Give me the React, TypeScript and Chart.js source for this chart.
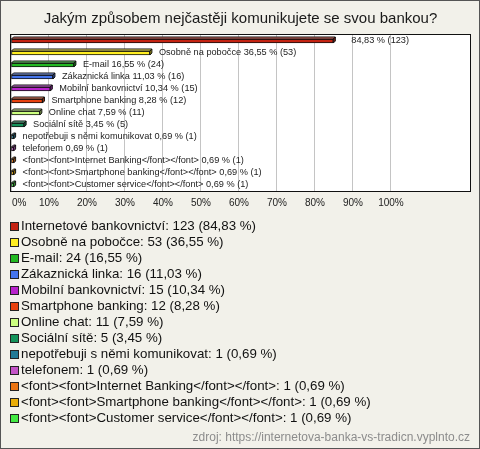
import React, { useEffect, useRef } from 'react';
import { Chart, registerables } from 'chart.js';

Chart.register(...registerables);

const TITLE = 'Jakým způsobem nejčastěji komunikujete se svou bankou?';
const SOURCE = 'zdroj: https://internetova-banka-vs-tradicn.vyplnto.cz';

const categories = [
  'Internetové bankovnictví',
  'Osobně na pobočce',
  'E-mail',
  'Zákaznická linka',
  'Mobilní bankovnictví',
  'Smartphone banking',
  'Online chat',
  'Sociální sítě',
  'nepotřebuji s němi komunikovat',
  'telefonem',
  '<font><font>Internet Banking</font></font>',
  '<font><font>Smartphone banking</font></font>',
  '<font><font>Customer service</font></font>',
];
const counts = [123, 53, 24, 16, 15, 12, 11, 5, 1, 1, 1, 1, 1];
const percents = [84.83, 36.55, 16.55, 11.03, 10.34, 8.28, 7.59, 3.45, 0.69, 0.69, 0.69, 0.69, 0.69];
const colors = [
  '#c42312',
  '#ffee22',
  '#22b922',
  '#4575ec',
  '#b824cc',
  '#e8420f',
  '#ccff80',
  '#13935a',
  '#217a96',
  '#c455c8',
  '#ea7412',
  '#eaae0a',
  '#44ea44',
];
const xTickValues = [0, 10, 20, 30, 40, 50, 60, 70, 80, 90, 100];
const X_MAX = 120.8;

const fmt = (v: number) => v.toFixed(2).replace('.', ',');

function shade(hex: string, f: number) {
  const n = parseInt(hex.slice(1), 16);
  let r = (n >> 16) & 255, g = (n >> 8) & 255, b = n & 255;
  if (f >= 0) {
    r = r + (255 - r) * f; g = g + (255 - g) * f; b = b + (255 - b) * f;
  } else {
    r = r * (1 + f); g = g * (1 + f); b = b * (1 + f);
  }
  return `rgb(${Math.round(r)},${Math.round(g)},${Math.round(b)})`;
}

const FONT = 'Arial, "Liberation Sans", sans-serif';

const framePlugin = {
  id: 'frame',
  beforeDraw(chart: any) {
    const { ctx, chartArea: a, width, height } = chart;
    ctx.save();
    ctx.fillStyle = '#f2f1ea';
    ctx.fillRect(0, 0, width, height);
    ctx.fillStyle = '#ffffff';
    ctx.fillRect(a.left, a.top, a.right - a.left, a.bottom - a.top);
    ctx.restore();
  },
  afterDraw(chart: any) {
    const { ctx, chartArea: a, width, height } = chart;
    ctx.save();
    ctx.strokeStyle = '#111';
    ctx.lineWidth = 1;
    const l = Math.round(a.left) - 0.5, t = Math.round(a.top) - 0.5;
    ctx.strokeRect(l, t, Math.round(a.right) - Math.round(a.left) + 1, Math.round(a.bottom) - Math.round(a.top) + 1);
    ctx.strokeStyle = '#555';
    ctx.strokeRect(0.5, 0.5, width - 1, height - 1);

    // x tick labels
    const xs = chart.scales.x;
    ctx.font = `10px ${FONT}`;
    ctx.fillStyle = '#222';
    ctx.textBaseline = 'middle';
    xTickValues.forEach((v, i) => {
      const px = xs.getPixelForValue(v);
      ctx.textAlign = i === 0 ? 'left' : 'center';
      ctx.fillText(`${v}%`, i === 0 ? px + 1 : px, a.bottom + 12);
    });

    // legend
    ctx.font = `13.3px ${FONT}`;
    ctx.textBaseline = 'middle';
    ctx.textAlign = 'left';
    categories.forEach((c, i) => {
      const y = 226 + i * 16;
      ctx.fillStyle = colors[i];
      ctx.fillRect(10, y - 4, 8, 8);
      ctx.strokeStyle = '#222';
      ctx.strokeRect(10.5, y - 3.5, 8, 8);
      ctx.fillStyle = '#111';
      ctx.fillText(`${c}: ${counts[i]} (${fmt(percents[i])} %)`, 21, y + 0.5);
    });

    // source
    ctx.font = `12px ${FONT}`;
    ctx.fillStyle = '#8c8c8c';
    ctx.textAlign = 'right';
    ctx.fillText(SOURCE, 470, 438);
    ctx.restore();
  },
};

const bar3dPlugin = {
  id: 'bar3d',
  afterDatasetsDraw(chart: any) {
    const { ctx } = chart;
    const meta = chart.getDatasetMeta(0);
    const d = 2;
    ctx.save();
    ctx.lineWidth = 1;
    ctx.strokeStyle = '#111';
    meta.data.forEach((el: any, i: number) => {
      const { x, y, base, height } = el.getProps(['x', 'y', 'base', 'height'], true);
      const x0 = base, x1 = x;
      const y0 = y - height / 2, y1 = y + height / 2;
      // top face
      ctx.beginPath();
      ctx.moveTo(x0, y0);
      ctx.lineTo(x0 + d, y0 - d);
      ctx.lineTo(x1 + d, y0 - d);
      ctx.lineTo(x1, y0);
      ctx.closePath();
      ctx.fillStyle = shade(colors[i], 0.35);
      ctx.fill();
      ctx.stroke();
      // side face
      ctx.beginPath();
      ctx.moveTo(x1, y0);
      ctx.lineTo(x1 + d, y0 - d);
      ctx.lineTo(x1 + d, y1 - d);
      ctx.lineTo(x1, y1);
      ctx.closePath();
      ctx.fillStyle = shade(colors[i], -0.35);
      ctx.fill();
      ctx.stroke();

      // label
      ctx.font = `9.2px ${FONT}`;
      ctx.fillStyle = '#222';
      ctx.textBaseline = 'middle';
      ctx.textAlign = 'left';
      const txt = (i === 0 ? '' : categories[i] + ' ') + `${fmt(percents[i])} % (${counts[i]})`;
      ctx.fillText(txt, x1 + (i === 0 ? 18 : 9), y - 1);
    });
    ctx.restore();
  },
};

export default function App() {
  const ref = useRef<HTMLCanvasElement | null>(null);
  useEffect(() => {
    document.body.style.margin = '0';
    const chart = new Chart(ref.current as HTMLCanvasElement, {
      type: 'bar',
      data: {
        labels: categories,
        datasets: [
          {
            data: percents,
            backgroundColor: colors,
            borderColor: '#111',
            borderWidth: 1,
            borderSkipped: false,
            barThickness: 4,
          },
        ],
      },
      options: {
        indexAxis: 'y',
        responsive: false,
        animation: false,
        devicePixelRatio: 1,
        layout: { padding: { left: 11, right: 10, top: 0, bottom: 258 } },
        plugins: {
          legend: { display: false },
          tooltip: { enabled: false },
          title: {
            display: true,
            text: TITLE,
            color: '#1a1a1a',
            font: { family: FONT, size: 15, weight: 'normal' },
            padding: { top: 10, bottom: 7 },
          },
        },
        scales: {
          x: {
            min: 0,
            max: X_MAX,
            afterBuildTicks: (scale: any) => {
              scale.ticks = xTickValues.map((v) => ({ value: v }));
            },
            grid: { color: '#c4c4c4', drawTicks: false },
            border: { display: false },
            ticks: { display: false },
          },
          y: {
            display: false,
          },
        },
      },
      plugins: [framePlugin, bar3dPlugin],
    } as any);
    return () => chart.destroy();
  }, []);
  return (
    <div style={{ position: 'absolute', left: 0, top: 0, width: 480, height: 449 }}>
      <canvas ref={ref} width={480} height={449} style={{ display: 'block' }} />
    </div>
  );
}
